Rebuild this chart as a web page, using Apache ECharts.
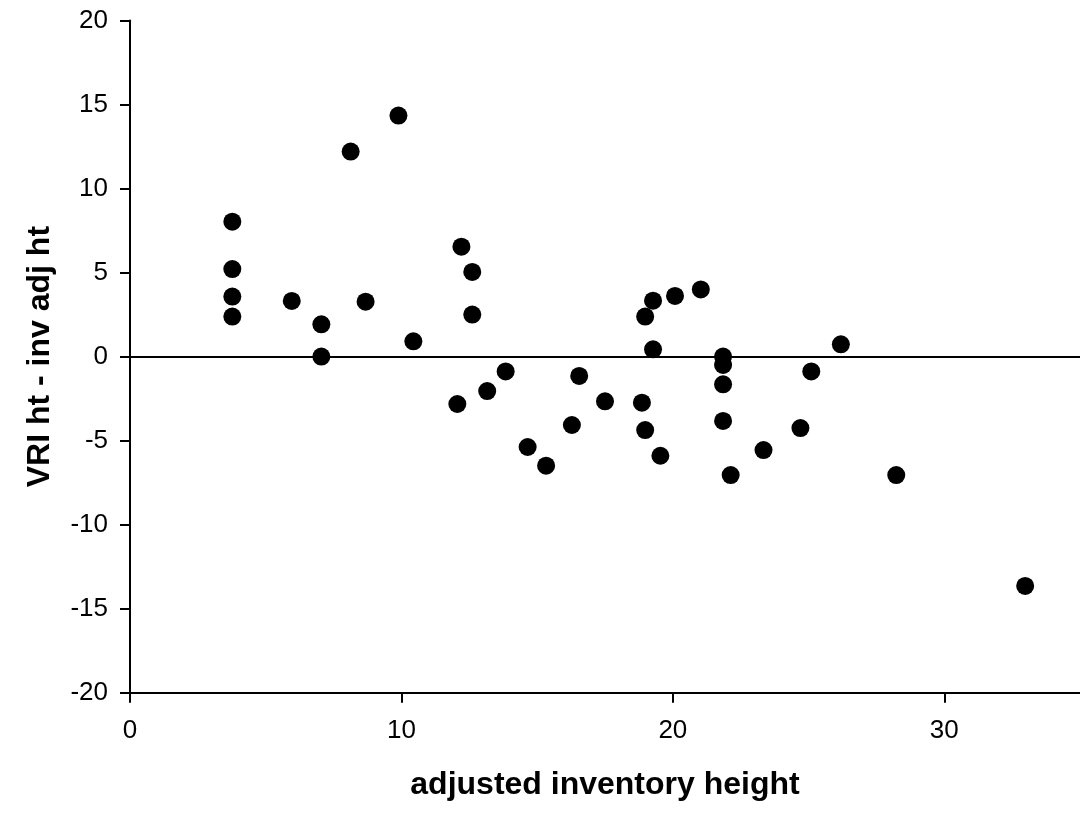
<!DOCTYPE html>
<html>
<head>
<meta charset="utf-8">
<script src="https://cdn.jsdelivr.net/npm/echarts@6/dist/echarts.min.js"></script>
<style>
html,body{margin:0;padding:0;background:#fff;}
#chart{width:1080px;height:814px;}
</style>
</head>
<body>
<div id="chart"></div>
<script>
const xValues = [3.77, 3.77, 3.77, 3.77, 5.96, 7.05, 7.05, 8.13, 8.68, 9.89, 10.44, 12.06, 12.21, 12.61, 12.61, 13.16, 13.84, 14.65, 15.33, 16.28, 16.55, 17.5, 18.86, 18.98, 18.98, 19.27, 19.27, 19.54, 20.08, 21.03, 21.85, 21.85, 21.85, 21.85, 22.13, 23.34, 24.7, 25.1, 26.19, 28.23, 32.98];
const yValues = [8.03, 5.21, 3.57, 2.38, 3.31, 1.92, 0.0, 12.2, 3.27, 14.34, 0.91, -2.82, 6.54, 5.04, 2.5, -2.05, -0.88, -5.38, -6.49, -4.07, -1.15, -2.66, -2.74, -4.37, 2.38, 3.33, 0.43, -5.9, 3.61, 4.0, 0.0, -0.5, -1.65, -3.83, -7.05, -5.56, -4.25, -0.88, 0.73, -7.05, -13.65];
const xTitle = 'adjusted inventory height';
const yTitle = 'VRI ht - inv adj ht';

const points = xValues.map((x, i) => [x, yValues[i]]);
const FONT = '"Liberation Sans", Arial, sans-serif';

const chart = echarts.init(document.getElementById('chart'), null, {renderer: 'canvas'});
chart.setOption({
  animation: false,
  backgroundColor: '#ffffff',
  grid: {left: 130, top: 20.5, right: -8.5, bottom: 121.3, containLabel: false},
  xAxis: {
    type: 'value', min: 0, max: 35, interval: 10,
    name: xTitle, nameLocation: 'middle', nameGap: 76,
    nameTextStyle: {fontFamily: FONT, fontSize: 32, fontWeight: 'bold', color: '#000'},
    axisLine: {show: true, onZero: false, lineStyle: {color: '#000', width: 2}},
    axisTick: {show: true, inside: false, length: 10, lineStyle: {color: '#000', width: 2}},
    axisLabel: {fontFamily: FONT, fontSize: 26, color: '#000', margin: 25, showMaxLabel: false},
    splitLine: {show: false}
  },
  yAxis: {
    type: 'value', min: -20, max: 20, interval: 5,
    name: yTitle, nameLocation: 'middle', nameGap: 74, nameRotate: 90,
    nameTextStyle: {fontFamily: FONT, fontSize: 32, fontWeight: 'bold', color: '#000'},
    axisLine: {show: true, onZero: false, lineStyle: {color: '#000', width: 2}},
    axisTick: {show: true, inside: false, length: 10, lineStyle: {color: '#000', width: 2}},
    axisLabel: {fontFamily: FONT, fontSize: 26, color: '#000', margin: 22},
    splitLine: {show: false}
  },
  series: [{
    type: 'scatter',
    data: points,
    symbol: 'circle',
    symbolSize: 18,
    itemStyle: {color: '#000', opacity: 1},
    markLine: {
      silent: true,
      symbol: ['none', 'none'],
      label: {show: false},
      lineStyle: {color: '#000', width: 2, type: 'solid', opacity: 1},
      data: [{yAxis: 0}]
    },
    z: 3
  }]
});
</script>
</body>
</html>
